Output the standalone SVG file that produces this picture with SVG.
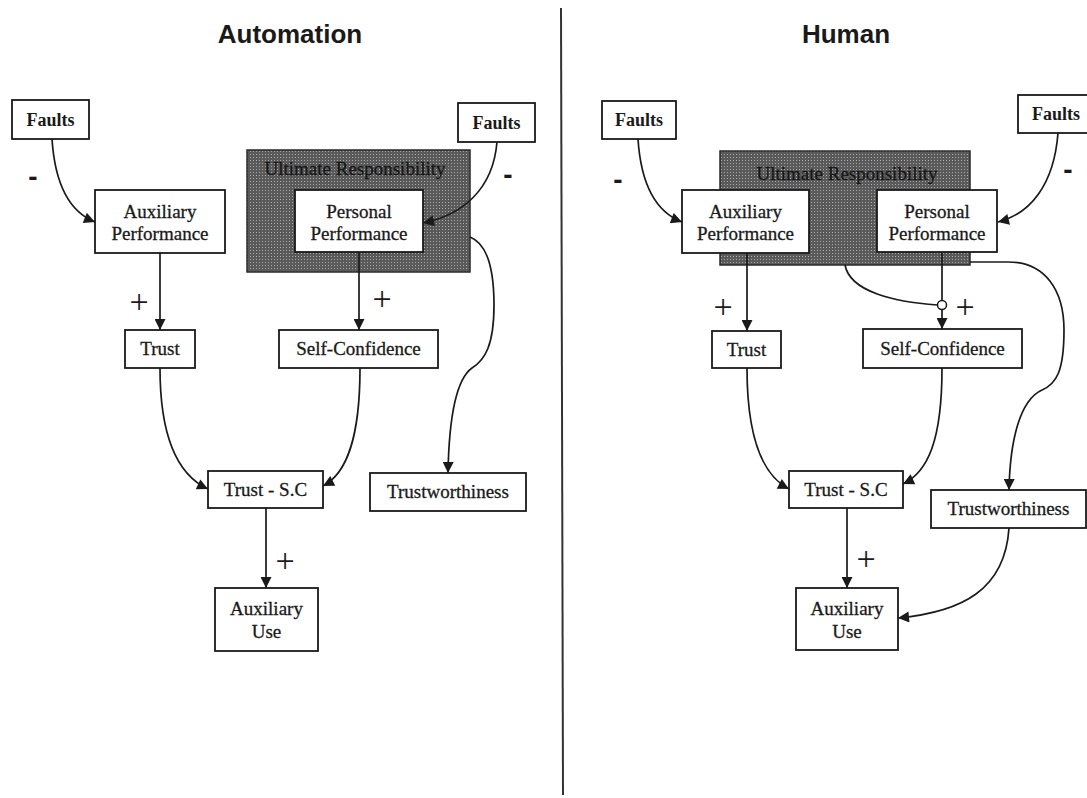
<svg xmlns="http://www.w3.org/2000/svg" width="1087" height="798" viewBox="0 0 1087 798">
  <style>
    .box { fill: #ffffff; stroke: #1a1a1a; stroke-width: 1.8; }
    .zone { fill: url(#halftone); stroke: #2a2a2a; stroke-width: 1.5; }
    .lbl { font-family: "Liberation Serif", "Times New Roman", serif; font-size: 19px; fill: #1a1a1a; stroke: #1a1a1a; stroke-width: 0.3; text-anchor: middle; }
    .bold { font-weight: bold; font-size: 18px; stroke-width: 0; }
    .zonelbl { font-family: "Liberation Serif", "Times New Roman", serif; font-size: 19px; fill: #161616; stroke: #161616; stroke-width: 0.3; text-anchor: middle; }
    .title { font-family: "Liberation Sans", Arial, sans-serif; font-size: 26px; font-weight: bold; fill: #1a1a1a; text-anchor: middle; }
    .plus { font-family: "Liberation Serif", "Times New Roman", serif; font-size: 34px; fill: #1a1a1a; text-anchor: middle; }
    .minus { font-family: "Liberation Sans", Arial, sans-serif; font-size: 28px; font-weight: bold; fill: #1a1a1a; text-anchor: middle; }
    .edge { fill: none; stroke: #1a1a1a; stroke-width: 1.7; }
    .arrow { marker-end: url(#head); }
  </style>
  <defs>
    <pattern id="halftone" width="3" height="3" patternUnits="userSpaceOnUse">
      <rect width="3" height="3" fill="#5a5a5a"/>
      <rect x="1" y="1" width="1" height="1" fill="#a8a8a8"/>
    </pattern>
    <marker id="head" viewBox="0 0 10 10" refX="10" refY="5" markerWidth="12" markerHeight="11" markerUnits="userSpaceOnUse" orient="auto">
      <path d="M0,0 L10,5 L0,10 z" fill="#1a1a1a"/>
    </marker>
  </defs>

  <rect width="1087" height="798" fill="#ffffff"/>

  <!-- panel divider -->
  <line x1="561" y1="8" x2="563" y2="795" stroke="#333" stroke-width="2"/>

  <!-- panel titles -->
  <text class="title" x="290" y="43">Automation</text>
  <text class="title" x="846" y="43">Human</text>

  <!-- ===== Automation panel ===== -->
  <g id="a-responsibility">
    <rect class="zone" x="247" y="150" width="223" height="122"/>
    <text class="zonelbl" x="355" y="175">Ultimate Responsibility</text>
  </g>
  <g id="a-faults-aux">
    <rect class="box" x="12" y="100" width="77" height="39"/>
    <text class="lbl bold" x="50.5" y="126">Faults</text>
  </g>
  <g id="a-faults-personal">
    <rect class="box" x="458" y="103" width="77" height="39"/>
    <text class="lbl bold" x="496.5" y="129">Faults</text>
  </g>
  <g id="a-aux-performance">
    <rect class="box" x="95" y="190" width="130" height="63"/>
    <text class="lbl" x="160" y="218">Auxiliary</text>
    <text class="lbl" x="160" y="240">Performance</text>
  </g>
  <g id="a-personal-performance">
    <rect class="box" x="295" y="190" width="128" height="62"/>
    <text class="lbl" x="359" y="218">Personal</text>
    <text class="lbl" x="359" y="240">Performance</text>
  </g>
  <g id="a-trust">
    <rect class="box" x="125" y="330" width="70" height="38"/>
    <text class="lbl" x="160" y="355">Trust</text>
  </g>
  <g id="a-self-confidence">
    <rect class="box" x="279" y="330" width="159" height="38"/>
    <text class="lbl" x="358.5" y="355">Self-Confidence</text>
  </g>
  <g id="a-trust-sc">
    <rect class="box" x="208" y="471" width="115" height="37"/>
    <text class="lbl" x="265.5" y="496">Trust - S.C</text>
  </g>
  <g id="a-trustworthiness">
    <rect class="box" x="370" y="473" width="156" height="38"/>
    <text class="lbl" x="448" y="498">Trustworthiness</text>
  </g>
  <g id="a-aux-use">
    <rect class="box" x="215" y="588" width="103" height="63"/>
    <text class="lbl" x="266.5" y="615">Auxiliary</text>
    <text class="lbl" x="266.5" y="638">Use</text>
  </g>

  <!-- ===== Human panel ===== -->
  <g id="h-responsibility">
    <rect class="zone" x="720" y="151" width="250" height="114"/>
    <text class="zonelbl" x="847" y="180">Ultimate Responsibility</text>
  </g>
  <g id="h-faults-aux">
    <rect class="box" x="602" y="101" width="74" height="38"/>
    <text class="lbl bold" x="639" y="126">Faults</text>
  </g>
  <g id="h-faults-personal">
    <rect class="box" x="1018" y="95" width="75" height="38"/>
    <text class="lbl bold" x="1056" y="120">Faults</text>
  </g>
  <g id="h-aux-performance">
    <rect class="box" x="682" y="190" width="127" height="63"/>
    <text class="lbl" x="745.5" y="218">Auxiliary</text>
    <text class="lbl" x="745.5" y="240">Performance</text>
  </g>
  <g id="h-personal-performance">
    <rect class="box" x="877" y="190" width="120" height="62"/>
    <text class="lbl" x="937" y="218">Personal</text>
    <text class="lbl" x="937" y="240">Performance</text>
  </g>
  <g id="h-trust">
    <rect class="box" x="712" y="331" width="69" height="37"/>
    <text class="lbl" x="746.5" y="356">Trust</text>
  </g>
  <g id="h-self-confidence">
    <rect class="box" x="863" y="329" width="159" height="39"/>
    <text class="lbl" x="942.5" y="355">Self-Confidence</text>
  </g>
  <g id="h-trust-sc">
    <rect class="box" x="789" y="471" width="114" height="37"/>
    <text class="lbl" x="846" y="496">Trust - S.C</text>
  </g>
  <g id="h-trustworthiness">
    <rect class="box" x="931" y="490" width="155" height="38"/>
    <text class="lbl" x="1008.5" y="515">Trustworthiness</text>
  </g>
  <g id="h-aux-use">
    <rect class="box" x="796" y="588" width="102" height="62"/>
    <text class="lbl" x="847" y="615">Auxiliary</text>
    <text class="lbl" x="847" y="638">Use</text>
  </g>

  <!-- connectors -->
  <g id="connectors">
    <!-- Automation -->
    <path class="edge arrow" d="M52,139 C55,185 70,212 95,222"/>
    <path class="edge arrow" d="M497,142 C493,190 462,215 423,223"/>
    <path class="edge arrow" d="M160,253 V330"/>
    <path class="edge arrow" d="M359,252 V330"/>
    <path class="edge arrow" d="M160,368 C160,440 180,476 208,489"/>
    <path class="edge arrow" d="M360,368 C360,440 346,474 323,486"/>
    <path class="edge arrow" d="M470,237 C488,244 494,270 494,305 C494,345 485,360 472,368 C455,380 449,420 448,473"/>
    <path class="edge arrow" d="M266,508 V588"/>

    <!-- Human -->
    <path class="edge arrow" d="M638,139 C641,185 656,212 682,222"/>
    <path class="edge arrow" d="M1058,133 C1054,185 1030,214 998,222"/>
    <path class="edge arrow" d="M747,253 V331"/>
    <path class="edge" d="M942,252 V300.5"/>
    <path class="edge arrow" d="M942,309.5 V329"/>
    <path class="edge" d="M845,265 C850,292 895,302 937.5,305"/>
    <circle cx="942" cy="305" r="4.5" fill="#ffffff" stroke="#1a1a1a" stroke-width="1.5"/>
    <path class="edge arrow" d="M970,262 L1008,262 C1045,262 1064,290 1064,330 C1064,372 1056,384 1042,390 C1020,400 1010,440 1009,490"/>
    <path class="edge arrow" d="M747,368 C747,440 764,476 789,489"/>
    <path class="edge arrow" d="M942,368 C942,440 928,472 903,484"/>
    <path class="edge arrow" d="M847,508 V588"/>
    <path class="edge arrow" d="M1009,528 C1005,590 962,612 898,618"/>
  </g>

  <!-- polarity labels -->
  <g id="polarity">
    <text class="minus" x="33" y="186">-</text>
    <text class="minus" x="508" y="184">-</text>
    <text class="plus" x="139" y="313">+</text>
    <text class="plus" x="382" y="310">+</text>
    <text class="plus" x="285" y="572">+</text>

    <text class="minus" x="618" y="189">-</text>
    <text class="minus" x="1068" y="179">-</text>
    <text class="plus" x="723" y="318">+</text>
    <text class="plus" x="965" y="318">+</text>
    <text class="plus" x="866" y="570">+</text>
  </g>
</svg>
